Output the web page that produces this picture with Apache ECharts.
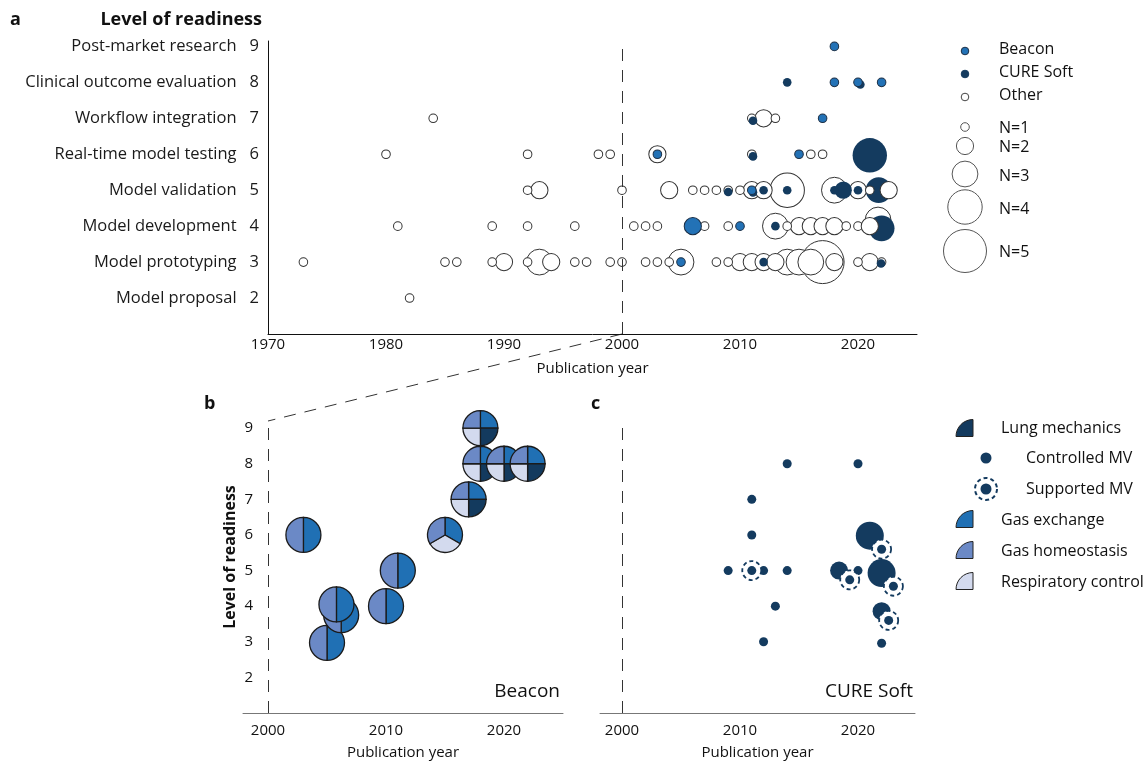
<!DOCTYPE html>
<html>
<head>
<meta charset="utf-8">
<script src="https://cdn.jsdelivr.net/npm/echarts@6/dist/echarts.min.js"></script>
<style>
html, body { margin: 0; padding: 0; background: #fff; }
#chart { width: 1147px; height: 761px; }
</style>
</head>
<body>
<div id="chart"></div>
<script>
// readiness levels (panel a y axis)
var levels = [2, 3, 4, 5, 6, 7, 8, 9];
var levelNames = ['Model proposal', 'Model prototyping', 'Model development', 'Model validation',
    'Real-time model testing', 'Workflow integration', 'Clinical outcome evaluation', 'Post-market research'];
var yearTicksA = [1970, 1980, 1990, 2000, 2010, 2020];
var yearTicks = [2000, 2010, 2020];

// panel a : [year, level, N papers]
var otherPapers = [
    [1984, 7, 1], [2011, 7, 1], [2012, 7, 2], [2013, 7, 1],
    [1980, 6, 1], [1992, 6, 1], [1998, 6, 1], [1999, 6, 1], [2003, 6, 2], [2011, 6, 1], [2016, 6, 1], [2017, 6, 1],
    [1992, 5, 1], [1993, 5, 2], [2000, 5, 1], [2004, 5, 2], [2006, 5, 1], [2007, 5, 1], [2008, 5, 1], [2009, 5, 1],
    [2010, 5, 1], [2011, 5, 2], [2012, 5, 2], [2014, 5, 4], [2018, 5, 3], [2020, 5, 2],
    [1981, 4, 1], [1989, 4, 1], [1992, 4, 1], [1996, 4, 1], [2001, 4, 1], [2002, 4, 1], [2003, 4, 1], [2007, 4, 1],
    [2009, 4, 1], [2013, 4, 3], [2014, 4, 1], [2015, 4, 2], [2016, 4, 2], [2017, 4, 2], [2018, 4, 2], [2019, 4, 1],
    [2020, 4, 1], [2021.7, 4.17, 3],
    [1973, 3, 1], [1985, 3, 1], [1986, 3, 1], [1989, 3, 1], [1990, 3, 2], [1992, 3, 1], [1993, 3, 3], [1994, 3, 2],
    [1996, 3, 1], [1997, 3, 1], [1999, 3, 1], [2000, 3, 1], [2002, 3, 1], [2003, 3, 1], [2004, 3, 1], [2005, 3, 3],
    [2008, 3, 1], [2009, 3, 1], [2010, 3, 2], [2011, 3, 2], [2012, 3, 2], [2013, 3, 2], [2014, 3, 3], [2015, 3, 3],
    [2016, 3, 3], [2017, 3, 5], [2018, 3, 2], [2020, 3, 1], [2021, 3, 2], [2022, 3, 1],
    [1982, 2, 1]
];
// "other" circles that sit above the CURE Soft bubbles
var otherOnTop = [[2021, 5, 1], [2022.6, 5, 2], [2021, 4, 2]];
var beaconPapers = [
    [2018, 9, 1], [2018, 8, 1], [2020, 8, 1], [2022, 8, 1], [2017, 7, 1], [2003, 6, 1], [2015, 6, 1],
    [2011, 5, 1], [2006, 4, 2], [2010, 4, 1], [2005, 3, 1]
];
var curePapers = [
    [2014, 8, 1], [2020.2, 7.94, 1], [2011.1, 6.93, 1], [2011.1, 5.94, 1], [2021, 5.97, 4], [2009, 4.95, 1],
    [2011.1, 4.94, 1], [2012, 5, 1], [2014, 5, 1], [2018, 5, 1], [2018.75, 5, 2], [2020, 5, 1], [2021.75, 5, 3],
    [2013, 4, 1], [2022, 3.94, 3], [2012, 3, 1], [2021.95, 2.96, 1]
];

// panel b : Beacon papers, [year, level, topics]
// E gas exchange, L lung mechanics, R respiratory control, H gas homeostasis
var beaconGlyphs = [
    [2003, 6, 'EH'], [2005, 2.97, 'EH'], [2006.2, 3.75, 'EH'], [2005.8, 4.05, 'EH'], [2010, 4, 'EH'],
    [2011, 5, 'EH'], [2015, 6, 'ERH'], [2017, 7, 'ELRH'], [2018, 9, 'ELRH'], [2018, 8, 'ELRH'],
    [2020, 8, 'ELRH'], [2022, 8, 'ELRH']
];

// panel c : CURE Soft papers
var cureControlled = [
    [2014, 8, 1], [2020, 8, 1], [2011, 7, 1], [2011, 6, 1], [2021, 5.98, 3], [2009, 5, 1], [2012, 5, 1],
    [2014, 5, 1], [2018.4, 5, 2], [2020, 5, 1], [2022, 4.93, 3], [2013, 4, 1], [2022, 3.86, 2], [2012, 3, 1],
    [2022, 2.96, 1]
];
var cureSupported = [[2011, 5], [2022, 5.6], [2019.3, 4.74], [2023, 4.56], [2022.6, 3.6]];

var topicOrder = ['E', 'L', 'R', 'H'];
var topicColors = { E: '#2070b4', L: '#133a5e', R: '#d3daee', H: '#6b89c6' };
var beaconColor = '#2372b6';
var cureColor = '#143b5f';
var FONT = '"Open Sans", sans-serif';

function sizeA(n) { return 8.6 * n; }
function sizeC(n) { return [9, 18, 28][n - 1]; }
function plain(v) { return String(v); }

var chart = echarts.init(document.getElementById('chart'));

var dashLine = {
    silent: true,
    symbol: 'none',
    label: { show: false },
    lineStyle: { type: [12, 9], color: '#333', width: 1 },
    data: [{ xAxis: 2000 }]
};

var option = {
    animation: false,
    textStyle: { fontFamily: FONT },
    grid: [
        { left: 268, top: 41, width: 649, height: 293 },
        { left: 243, top: 421, width: 320, height: 293 },
        { left: 600, top: 421, width: 315, height: 293 }
    ],
    xAxis: [
        {
            gridIndex: 0, type: 'value', min: 1970, max: 2025,
            axisLine: { lineStyle: { color: '#111' } }, axisTick: { show: false }, splitLine: { show: false },
            axisLabel: { fontSize: 15, color: '#111', margin: 3, customValues: yearTicksA, formatter: plain },
            name: 'Publication year', nameLocation: 'middle', nameGap: 27,
            nameTextStyle: { fontSize: 15, color: '#111' }
        },
        {
            gridIndex: 1, type: 'value', min: 1997.88, max: 2025,
            axisLine: { lineStyle: { color: '#777' } }, axisTick: { show: false }, splitLine: { show: false },
            axisLabel: { fontSize: 15, color: '#111', margin: 10, customValues: yearTicks, formatter: plain },
            name: 'Publication year', nameLocation: 'middle', nameGap: 32,
            nameTextStyle: { fontSize: 15, color: '#111' }
        },
        {
            gridIndex: 2, type: 'value', min: 1998.14, max: 2024.83,
            axisLine: { lineStyle: { color: '#777' } }, axisTick: { show: false }, splitLine: { show: false },
            axisLabel: { fontSize: 15, color: '#111', margin: 10, customValues: yearTicks, formatter: plain },
            name: 'Publication year', nameLocation: 'middle', nameGap: 32,
            nameTextStyle: { fontSize: 15, color: '#111' }
        }
    ],
    yAxis: [
        {
            gridIndex: 0, type: 'value', min: 1, max: 9.15, interval: 1,
            axisLine: { show: true, lineStyle: { color: '#111' } }, axisTick: { show: false }, splitLine: { show: false },
            axisLabel: {
                margin: 9,
                formatter: function(v) {
                    var i = levels.indexOf(Math.round(v));
                    if (i < 0) return '';
                    return '{t|' + levelNames[i] + '}{n|' + levels[i] + '}';
                },
                rich: {
                    t: { fontSize: 16.5, color: '#1a1a1a', padding: [0, 13, 0, 0], fontFamily: FONT },
                    n: { fontSize: 16.5, color: '#1a1a1a', fontFamily: FONT }
                }
            }
        },
        {
            gridIndex: 1, type: 'value', min: 1, max: 9.2, interval: 1,
            axisLine: { show: false }, axisTick: { show: false }, splitLine: { show: false },
            axisLabel: {
                fontSize: 15, color: '#111', margin: -10,
                formatter: function(v) { return levels.indexOf(Math.round(v)) < 0 ? '' : String(Math.round(v)); }
            }
        },
        {
            gridIndex: 2, type: 'value', min: 1, max: 9.2, interval: 1, show: false
        }
    ],
    series: [
        {
            name: 'Other', type: 'scatter', xAxisIndex: 0, yAxisIndex: 0, z: 2, silent: true,
            data: otherPapers.slice().sort(function(a, b) { return b[2] - a[2]; }),
            symbolSize: function(d) { return sizeA(d[2]); },
            itemStyle: { color: '#fff', borderColor: '#333', borderWidth: 1, opacity: 1 },
            markLine: dashLine
        },
        {
            name: 'CURE Soft', type: 'scatter', xAxisIndex: 0, yAxisIndex: 0, z: 3, silent: true,
            data: curePapers.slice().sort(function(a, b) { return b[2] - a[2]; }),
            symbolSize: function(d) { return sizeA(d[2]); },
            itemStyle: { color: cureColor, opacity: 1 }
        },
        {
            name: 'Beacon', type: 'scatter', xAxisIndex: 0, yAxisIndex: 0, z: 4, silent: true,
            data: beaconPapers,
            symbolSize: function(d) { return sizeA(d[2]); },
            itemStyle: { color: beaconColor, borderColor: '#1c2f45', borderWidth: 1, opacity: 1 }
        },
        {
            name: 'Other', type: 'scatter', xAxisIndex: 0, yAxisIndex: 0, z: 5, silent: true,
            data: otherOnTop,
            symbolSize: function(d) { return sizeA(d[2]); },
            itemStyle: { color: '#fff', borderColor: '#333', borderWidth: 1, opacity: 1 }
        },
        {
            name: 'Beacon topics', type: 'custom', xAxisIndex: 1, yAxisIndex: 1, z: 3, silent: true,
            data: beaconGlyphs.map(function(d) { return [d[0], d[1]]; }),
            encode: { x: 0, y: 1 },
            renderItem: function(params, api) {
                var c = api.coord([api.value(0), api.value(1)]);
                var code = beaconGlyphs[params.dataIndex][2];
                var parts = topicOrder.filter(function(k) { return code.indexOf(k) >= 0; });
                var step = 2 * Math.PI / parts.length;
                var children = parts.map(function(k, i) {
                    var a0 = -Math.PI / 2 + i * step;
                    return {
                        type: 'sector',
                        shape: { cx: c[0], cy: c[1], r: 17.5, r0: 0, startAngle: a0, endAngle: a0 + step, clockwise: true },
                        style: { fill: topicColors[k], stroke: '#1b1b1b', lineWidth: 1.3 }
                    };
                });
                return { type: 'group', children: children };
            },
            markLine: dashLine
        },
        {
            name: 'Controlled MV', type: 'scatter', xAxisIndex: 2, yAxisIndex: 2, z: 2, silent: true,
            data: cureControlled,
            symbolSize: function(d) { return sizeC(d[2]); },
            itemStyle: { color: cureColor, opacity: 1 },
            markLine: dashLine
        },
        {
            name: 'Supported MV ring', type: 'scatter', xAxisIndex: 2, yAxisIndex: 2, z: 3, silent: true,
            data: cureSupported, symbolSize: 19,
            itemStyle: { color: '#fff', borderColor: cureColor, borderWidth: 1.8, borderType: [4, 3], opacity: 1 }
        },
        {
            name: 'Supported MV', type: 'scatter', xAxisIndex: 2, yAxisIndex: 2, z: 4, silent: true,
            data: cureSupported, symbolSize: 9,
            itemStyle: { color: cureColor, opacity: 1 }
        }
    ]
};

chart.setOption(option);

// decorations: panel letters, legends, connector line
function txt(x, y, text, font, align, extra) {
    var o = {
        type: 'text', x: x, y: y, silent: true,
        style: { text: text, font: font, fill: '#111', align: align || 'left', verticalAlign: 'middle' }
    };
    if (extra) for (var k in extra) o[k] = extra[k];
    return o;
}

var g = [];
g.push(txt(10, 20, 'a', 'bold 18px ' + FONT));
g.push(txt(262, 20, 'Level of readiness', 'bold 18px ' + FONT, 'right'));
g.push(txt(204, 404, 'b', 'bold 18px ' + FONT));
g.push(txt(591, 404, 'c', 'bold 18px ' + FONT));
g.push(txt(230, 557, 'Level of readiness', 'bold 16px ' + FONT, 'center', { rotation: Math.PI / 2 }));
g.push(txt(560, 692, 'Beacon', '19px ' + FONT, 'right'));
g.push(txt(913, 692, 'CURE Soft', '19px ' + FONT, 'right'));

// legend a
var legA = [
    { y: 51, label: 'Beacon', fill: beaconColor, stroke: '#1c2f45', ty: 49 },
    { y: 74, label: 'CURE Soft', fill: cureColor, stroke: cureColor, ty: 72 },
    { y: 97, label: 'Other', fill: '#fff', stroke: '#444', ty: 95 }
];
legA.forEach(function(d) {
    g.push({ type: 'circle', silent: true, shape: { cx: 965, cy: d.y, r: sizeA(1) / 2 - 0.5 },
        style: { fill: d.fill, stroke: d.stroke, lineWidth: 1 } });
    g.push(txt(999, d.ty, d.label, '16px ' + FONT));
});
var legN = [[1, 127, 128], [2, 146, 147], [3, 174, 176], [4, 207, 209], [5, 251, 252]];
legN.forEach(function(d) {
    g.push({ type: 'circle', silent: true, shape: { cx: 965, cy: d[1], r: sizeA(d[0]) / 2 },
        style: { fill: '#fff', stroke: '#555', lineWidth: 1 } });
    g.push(txt(999, d[2], 'N=' + d[0], '16px ' + FONT));
});

// legend b/c
function quarter(y, color) {
    return { type: 'sector', silent: true,
        shape: { cx: 973, cy: y + 8.5, r: 17, r0: 0, startAngle: Math.PI, endAngle: Math.PI * 1.5, clockwise: true },
        style: { fill: color, stroke: '#222', lineWidth: 1 } };
}
g.push(quarter(428, topicColors.L));
g.push(txt(1001, 428, 'Lung mechanics', '16px ' + FONT));
g.push({ type: 'circle', silent: true, shape: { cx: 986, cy: 458, r: 5.5 }, style: { fill: cureColor } });
g.push(txt(1026, 458, 'Controlled MV', '16px ' + FONT));
g.push({ type: 'circle', silent: true, shape: { cx: 986, cy: 489, r: 11 },
    style: { fill: '#fff', stroke: cureColor, lineWidth: 2, lineDash: [4, 3] } });
g.push({ type: 'circle', silent: true, shape: { cx: 986, cy: 489, r: 5.5 }, style: { fill: cureColor } });
g.push(txt(1026, 489, 'Supported MV', '16px ' + FONT));
g.push(quarter(519, topicColors.E));
g.push(txt(1001, 520, 'Gas exchange', '16px ' + FONT));
g.push(quarter(550, topicColors.H));
g.push(txt(1001, 551, 'Gas homeostasis', '16px ' + FONT));
g.push(quarter(581, topicColors.R));
g.push(txt(1001, 582, 'Respiratory control', '16px ' + FONT));

// zoom connector from panel a (2000) to panel b
var p0 = chart.convertToPixel({ gridIndex: 0 }, [2000, 1]);
var p1 = chart.convertToPixel({ gridIndex: 1 }, [2000, 9.2]);
g.push({ type: 'line', silent: true, shape: { x1: p0[0], y1: p0[1], x2: p1[0], y2: p1[1] },
    style: { stroke: '#333', lineWidth: 1, lineDash: [12, 9] } });

chart.setOption({ graphic: g });
</script>
</body>
</html>
